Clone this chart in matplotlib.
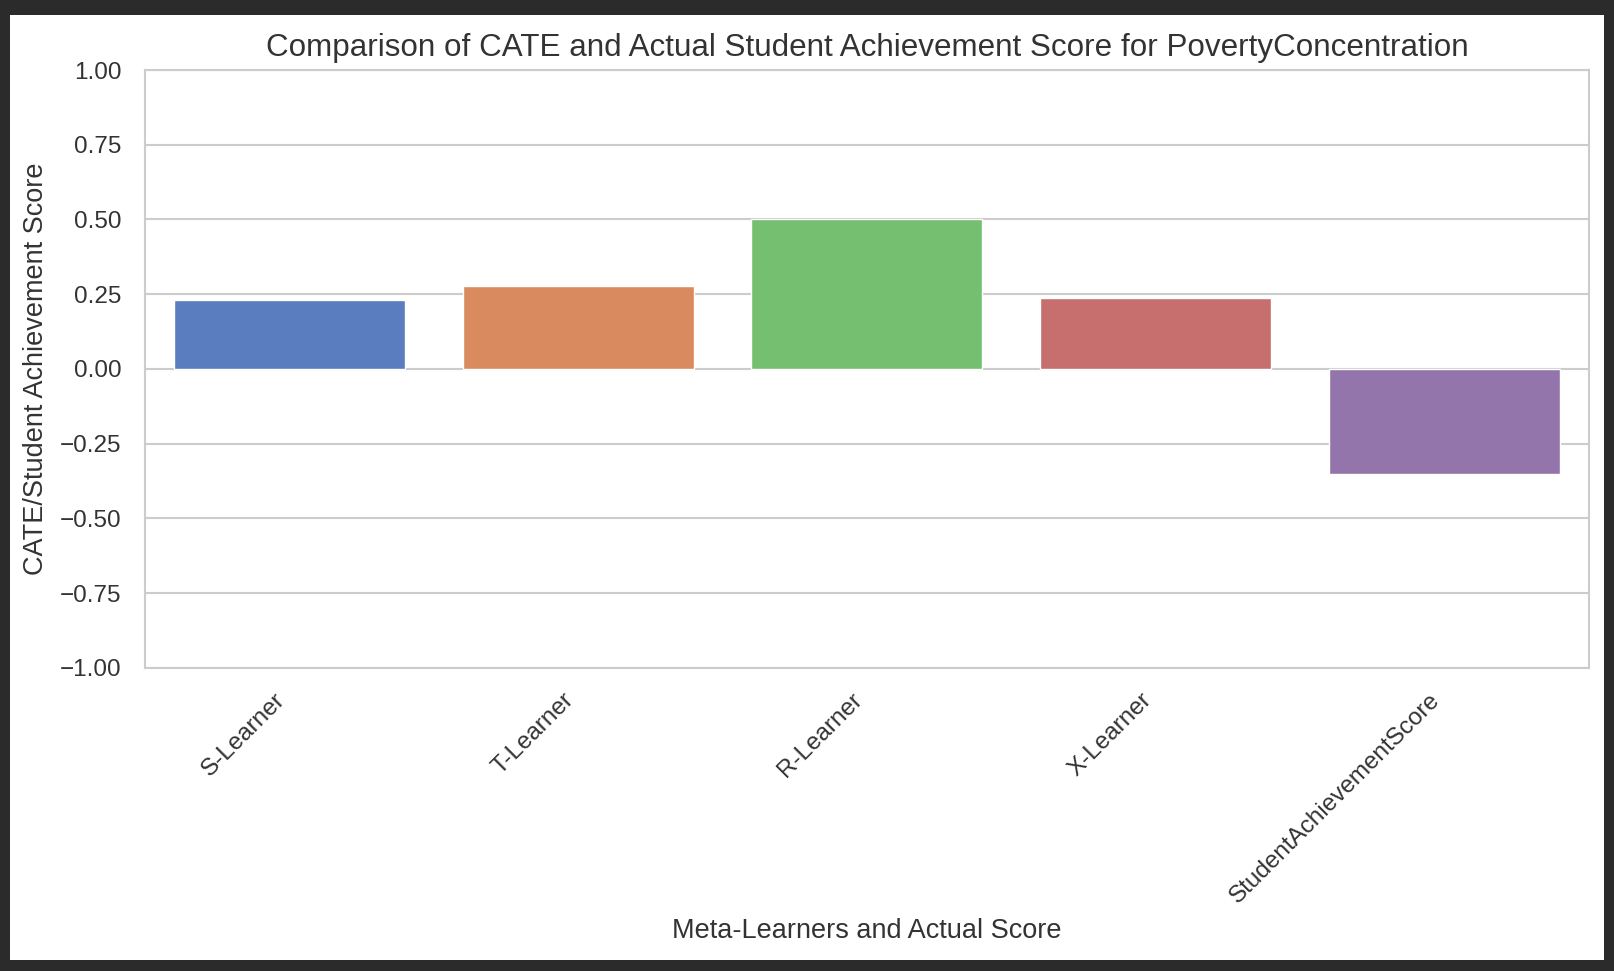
"""Bar chart comparing CATE estimates with the actual achievement score."""

import matplotlib

matplotlib.use("Agg")

import matplotlib.pyplot as plt
import seaborn as sns
from matplotlib.patches import Rectangle

# values
learners = ["S-Learner", "T-Learner", "R-Learner", "X-Learner", "StudentAchievementScore"]
cate_values = [0.230, 0.277, 0.502, 0.238, -0.350]
y_ticks = [-1.00, -0.75, -0.50, -0.25, 0.00, 0.25, 0.50, 0.75, 1.00]

sns.set_theme(style="whitegrid")
plt.rcParams["font.family"] = ["Liberation Sans", "DejaVu Sans"]

fig = plt.figure(figsize=(16.14, 9.71), dpi=100, facecolor="#2b2b2b")
# white canvas inside the dark screenshot frame
fig.patches.append(
    Rectangle((0.0062, 0.0113), 0.9876, 0.9733, transform=fig.transFigure,
              facecolor="white", edgecolor="none", zorder=-10)
)
ax = fig.add_axes([0.0898, 0.3121, 0.8947, 0.6158])

sns.barplot(x=learners, y=cate_values, hue=learners, palette="muted",
            legend=False, ax=ax, zorder=2)

ax.set_ylim(-1.0, 1.0)
ax.set_yticks(y_ticks)
ax.set_yticklabels([f"{v:.2f}".replace("-", "\u2212") for v in y_ticks])
ax.tick_params(axis="both", labelsize=17.5, colors="#333333")
ax.tick_params(axis="y", pad=11)
ax.tick_params(axis="x", pad=9)
ax.set_xticks(range(len(learners)))
ax.set_xticklabels(learners, rotation=45, ha="right")
ax.grid(True, axis="y", color="#cccccc", linewidth=1.5)
ax.grid(False, axis="x")
for spine in ax.spines.values():
    spine.set_color("#cccccc")
    spine.set_linewidth(1.5)

ax.set_title("Comparison of CATE and Actual Student Achievement Score for PovertyConcentration",
             fontsize=22.6, color="#333333", pad=10)
ax.set_xlabel("Meta-Learners and Actual Score", fontsize=19.5, color="#333333", labelpad=8)
ax.set_ylabel("CATE/Student Achievement Score", fontsize=19.5, color="#333333", labelpad=8)

fig.savefig("out.png", dpi=100, facecolor=fig.get_facecolor())
